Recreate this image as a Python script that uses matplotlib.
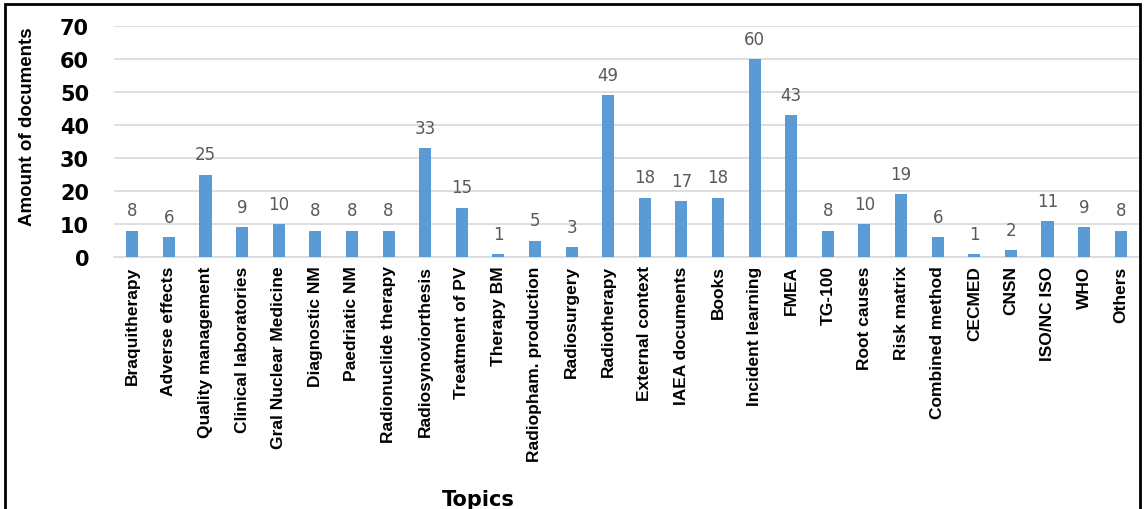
import matplotlib.pyplot as plt
from matplotlib.patches import Rectangle

# Datos
topics = ['Braquitherapy', 'Adverse effects', 'Quality management', 'Clinical laboratories',
          'Gral Nuclear Medicine', 'Diagnostic NM', 'Paedriatic NM', 'Radionuclide therapy',
          'Radiosynoviorthesis', 'Treatment of PV', 'Therapy BM', 'Radiopham. production',
          'Radiosurgery', 'Radiotherapy', 'External context', 'IAEA documents', 'Books',
          'Incident learning', 'FMEA', 'TG-100', 'Root causes', 'Risk matrix',
          'Combined method', 'CECMED', 'CNSN', 'ISO/NC ISO', 'WHO', 'Others']
counts = [8, 6, 25, 9, 10, 8, 8, 8, 33, 15, 1, 5, 3, 49, 18, 17, 18, 60, 43, 8, 10, 19,
          6, 1, 2, 11, 9, 8]
y_ticks = [0, 10, 20, 30, 40, 50, 60, 70]

narrow = ['Liberation Sans', 'DejaVu Sans']

fig = plt.figure(figsize=(11.44, 5.10), dpi=100)
ax = fig.add_axes([114 / 1144, 1 - 258 / 510, (1139 - 114) / 1144, (258 - 27) / 510])

x = range(len(topics))
bars = ax.bar(x, counts, width=0.33, color='#5b9bd5', zorder=3)

# Etiquetas de valores
for xi, v in zip(x, counts):
    ax.annotate(str(v), (xi, v), xytext=(0, 8), textcoords='offset points',
                ha='center', va='bottom', fontsize=12, color='#595959',
                family='DejaVu Sans')

ax.set_xlim(-0.5, len(topics) - 0.5)
ax.set_ylim(0, 70)
ax.set_yticks(y_ticks)
ax.set_yticklabels([str(t) for t in y_ticks], fontsize=15, fontweight='bold',
                   family='DejaVu Sans')
ax.set_xticks(list(x))
ax.set_xticklabels(topics, rotation=90, fontsize=12.5, fontweight='bold', family=narrow)
ax.tick_params(axis='both', length=0)
ax.tick_params(axis='y', pad=18)
ax.tick_params(axis='x', pad=6)
ax.grid(axis='y', color='#d9d9d9', linewidth=1.2, zorder=0)
for s in ['top', 'right', 'left']:
    ax.spines[s].set_visible(False)
ax.spines['bottom'].set_color('#d9d9d9')
ax.spines['bottom'].set_linewidth(1.2)

fig.text(28 / 1144, 1 - 127 / 510, 'Amount of documents', rotation=90, ha='center',
         va='center', fontsize=13.5, fontweight='bold', family=narrow)
fig.text(478 / 1144, 1 - 500 / 510, 'Topics', ha='center', va='center', fontsize=15,
         fontweight='bold', family='DejaVu Sans')

# Marco
fig.patches.append(Rectangle((5 / 1144, -0.02), 1135 / 1144, 1.02 - 5 / 510,
                             transform=fig.transFigure, fill=False, edgecolor='black',
                             linewidth=2))

fig.savefig('out.png', dpi=100)
